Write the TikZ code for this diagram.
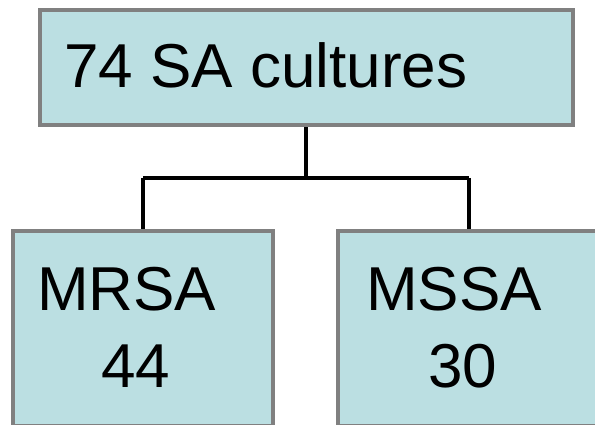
\documentclass[tikz,border=0pt]{standalone}
\usepackage{fontspec}
\setmainfont{Liberation Sans}
\definecolor{boxfill}{HTML}{BBDFE2}
\definecolor{boxline}{HTML}{808080}
\begin{document}
\begin{tikzpicture}[x=1pt,y=-1pt,
  catbox/.style={draw=boxline,fill=boxfill,line width=4.5pt,rectangle,inner sep=0pt},
  label/.style={anchor=base west,inner sep=0pt,font=\fontsize{62}{74}\selectfont},
  link/.style={draw=black,line width=4pt}]
\useasboundingbox (0,0) rectangle (595,425);
% boxes
\node[catbox,minimum width=533pt,minimum height=115pt] (total) at (306.5,67.5) {};
\node[catbox,minimum width=260pt,minimum height=195pt] (mrsa) at (143,328.5) {};
\node[catbox,minimum width=270pt,minimum height=195pt] (mssa) at (473,328.5) {};
% texts
\node[label] (ttotal) at (64,88) {74 SA cultures};
\node[label] (tmrsa) at (37,310) {MRSA};
\node[label] (nmrsa) at (101,387) {44};
\node[label] (tmssa) at (366,310) {MSSA};
\node[label] (nmssa) at (428,387) {30};
% tree connectors
\coordinate (fork) at (306,178);
\coordinate (leftend) at (143,178);
\coordinate (rightend) at (469,178);
\draw[link] (total.south -| fork) -- (fork);
\draw[link] (leftend) -- (rightend);
\draw[link] (leftend) -- (leftend |- mrsa.north);
\draw[link] (rightend) -- (rightend |- mssa.north);
\end{tikzpicture}
\end{document}
